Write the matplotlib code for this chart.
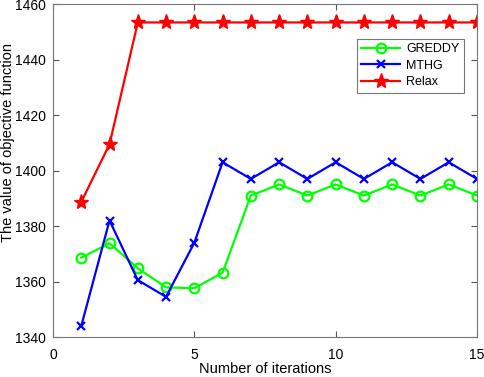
import matplotlib
matplotlib.use("Agg")
import matplotlib.pyplot as plt

iterations = list(range(1, 16))
greddy = [1368.6, 1373.8, 1364.8, 1357.9, 1357.6, 1363.2, 1391, 1395, 1391, 1395, 1391, 1395, 1391, 1395, 1391]
mthg = [1344, 1382, 1360.5, 1354.5, 1374, 1403, 1397, 1403, 1397, 1403, 1397, 1403, 1397, 1403, 1397]
relax = [1388.7, 1409.5, 1453.4, 1453.4, 1453.4, 1453.4, 1453.4, 1453.4, 1453.4, 1453.4, 1453.4, 1453.4, 1453.4, 1453.4, 1453.4]

plt.rcParams['font.family'] = ['Liberation Sans', 'DejaVu Sans']
fig = plt.figure(figsize=(4.84, 3.77), dpi=100)
ax = fig.add_axes([0.1095, 0.106, 0.876, 0.883])

ax.plot(iterations, greddy, color='#00ff00', lw=1.6, marker='o', ms=7, mfc='none', mew=1.6, label='GREDDY')
ax.plot(iterations, mthg, color='#0000ff', lw=1.6, marker='x', ms=6, mew=1.6, label='MTHG')
ax.plot(iterations, relax, color='#ff0000', lw=1.6, marker='*', ms=11, label='Relax')

ax.set_xlim(0, 15)
ax.set_ylim(1340, 1460)
ax.set_xticks([0, 5, 10, 15])
ax.set_yticks(range(1340, 1461, 20))
ax.tick_params(direction='in', top=True, right=True, labelsize=10, color='#555555', length=4)
ax.tick_params(axis='x', pad=8)
ax.tick_params(axis='y', pad=5)
for s in ax.spines.values():
    s.set_color('#777777')
    s.set_linewidth(0.8)
ax.set_xlabel('Number of iterations', fontsize=10.5)
ax.set_ylabel('The value of objective function', fontsize=10.5)
ax.xaxis.set_label_coords(0.5, -0.075)
ax.yaxis.set_label_coords(-0.089, 0.584)
leg = ax.legend(loc='upper right', bbox_to_anchor=(0.969, 0.895), fontsize=9, fancybox=False,
                edgecolor='#777777', handlelength=3.1, handletextpad=0.5, borderpad=0.35,
                labelspacing=0.35, borderaxespad=0, framealpha=1)
leg.get_frame().set_linewidth(0.8)

fig.savefig('out.png', dpi=100)
